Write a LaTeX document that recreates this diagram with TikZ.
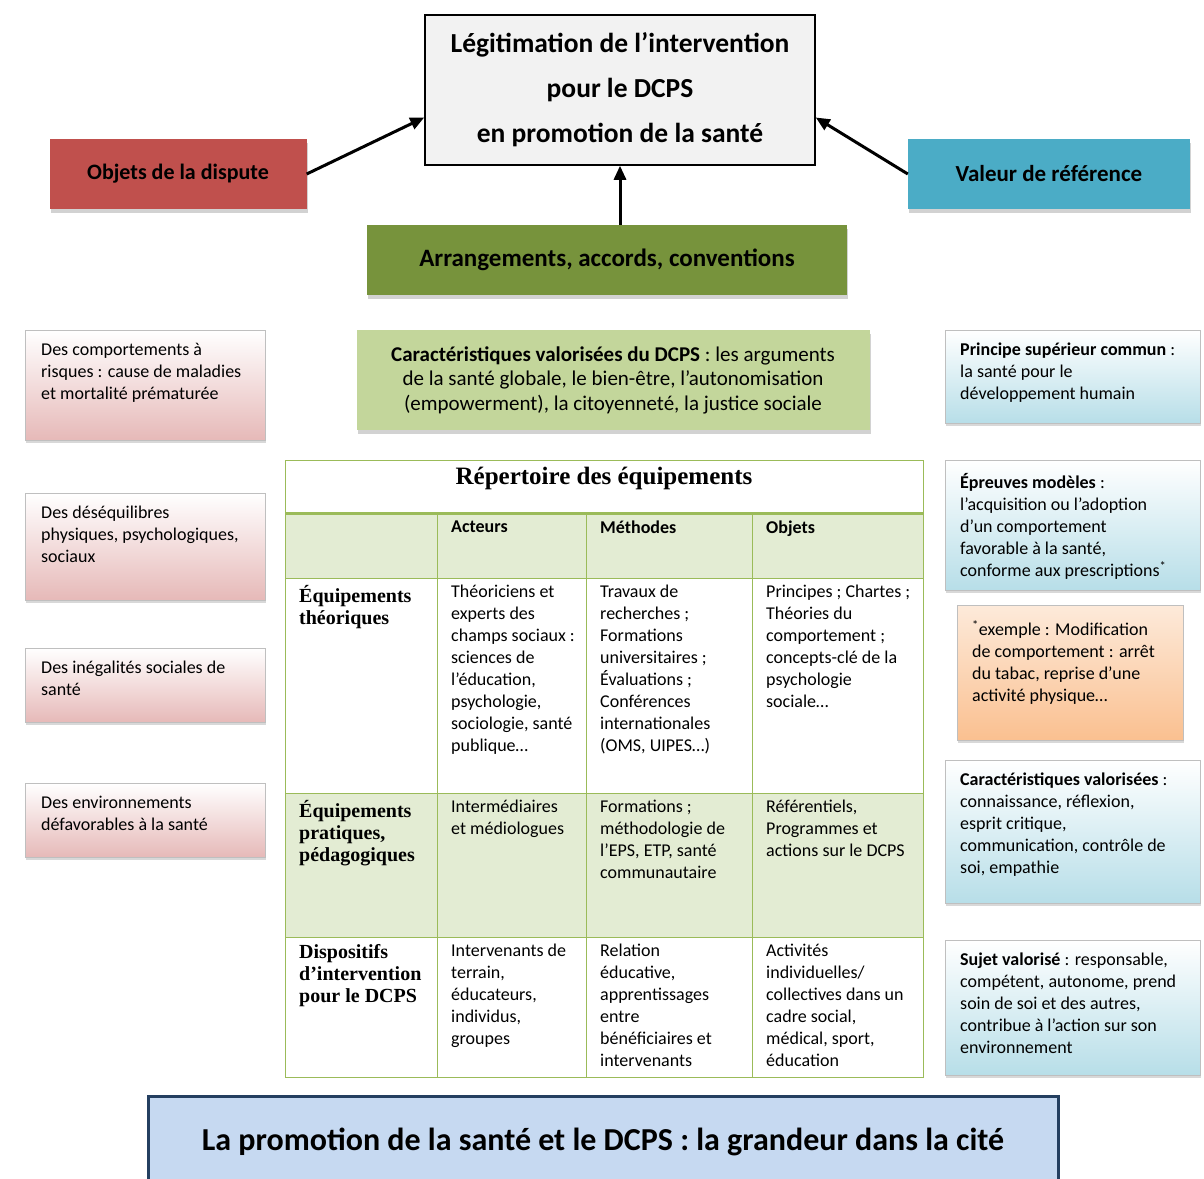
\documentclass[tikz,border=0pt]{standalone}
\usepackage{fontspec}
\setmainfont{Carlito}
\newfontfamily\tabserif{Liberation Serif}
\usetikzlibrary{arrows.meta,shadows}
\definecolor{disputered}{HTML}{C0504D}
\definecolor{valueblue}{HTML}{4BACC6}
\definecolor{arrgreen}{HTML}{77933C}
\definecolor{lightolive}{HTML}{C3D69B}
\definecolor{pinkbot}{HTML}{E6B9B8}
\definecolor{bluebot}{HTML}{B7DEE8}
\definecolor{orangetop}{HTML}{FDEADA}
\definecolor{orangebot}{HTML}{FAC090}
\definecolor{tabline}{HTML}{9BBB59}
\definecolor{tabfill}{HTML}{E3ECD3}
\definecolor{citynavy}{HTML}{243F60}
\definecolor{cityfill}{HTML}{C6D9F1}
\begin{document}
\begin{tikzpicture}[x=1pt, y=-1pt]
\useasboundingbox (0,0) rectangle (1204,1178);
\fill[white] (0,0) rectangle (1204,1178);
\node[rectangle, draw, line width=1.5pt, fill=gray!10, minimum width=390pt, minimum height=150pt, align=center, font=\bfseries\fontsize{27.5}{45}\selectfont] (legit) at (620,90) {Légitimation de l’intervention\\pour le DCPS\\en promotion de la santé};
\begin{scope}[every node/.style = {rectangle, align=center, font=\bfseries\fontsize{22}{26}\selectfont, drop shadow={shadow xshift=1pt, shadow yshift=-4pt, opacity=.35}}]
\node[fill=disputered, minimum width=257pt, minimum height=70pt] (dispute) at (178,174) {Objets de la dispute};
\node[fill=valueblue, minimum width=282pt, minimum height=70pt, font=\bfseries\fontsize{23}{26}\selectfont] (valeur) at (1049,174) {Valeur de référence};
\node[fill=arrgreen, minimum width=480pt, minimum height=70pt, font=\bfseries\fontsize{25}{28}\selectfont] (arrange) at (607,260) {Arrangements, accords, conventions};
\node[fill=lightolive, minimum width=513pt, minimum height=100pt, font=\fontsize{21}{24.5}\selectfont] (caracdcps) at (613,380) {\textbf{Caractéristiques valorisées du DCPS} : les arguments\\de la santé globale, le bien-être, l’autonomisation\\(empowerment), la citoyenneté, la justice sociale};
\end{scope}
\begin{scope}[every edge/.style = {draw, line width=3pt, -{Triangle[length=14pt, width=12pt]}}]
\path (dispute.east) edge (legit.188);
\path (valeur.west) edge (legit.352);
\path (legit.south |- arrange.north) edge (legit.south);
\end{scope}
\begin{scope}[every node/.style = {rectangle, anchor=north west, draw=gray!50, top color=white, bottom color=pinkbot, inner xsep=16pt, inner ysep=13pt, align=left, font=\fontsize{18}{22}\selectfont, drop shadow={shadow xshift=1pt, shadow yshift=-3pt, opacity=.3}}]
\node (risques) at (25,330) {\parbox[c][84pt][t]{208pt}{Des comportements à\\risques : cause de maladies\\et mortalité prématurée}};
\node (desequilibres) at (25,493) {\parbox[c][81pt][t]{208pt}{Des déséquilibres\\physiques, psychologiques,\\sociaux}};
\node (inegalites) at (25,648) {\parbox[c][48pt][t]{208pt}{Des inégalités sociales de\\santé}};
\node (environnements) at (25,783) {\parbox[c][48pt][t]{208pt}{Des environnements\\défavorables à la santé}};
\end{scope}
\begin{scope}[every node/.style = {rectangle, anchor=north west, draw=gray!50, top color=white, bottom color=bluebot, inner xsep=15pt, inner ysep=13pt, align=left, font=\fontsize{18}{22}\selectfont, drop shadow={shadow xshift=1pt, shadow yshift=-3pt, opacity=.3}}]
\node (principe) at (945,330) {\parbox[c][67pt][t]{225pt}{\textbf{Principe supérieur commun} :\\la santé pour le\\développement humain}};
\node (epreuves) at (945,460) {\parbox[c][104pt][t]{225pt}{\textbf{Épreuves modèles} :\\l’acquisition ou l’adoption\\d’un comportement\\favorable à la santé,\\conforme aux prescriptions\textsuperscript{*}}};
\node[top color=orangetop, bottom color=orangebot, inner ysep=15pt] (exemple) at (957,605) {\parbox[c][105pt][t]{196pt}{\textsuperscript{*}exemple : Modification\\de comportement : arrêt\\du tabac, reprise d’une\\activité physique…}};
\node (caracsujet) at (945,760) {\parbox[c][117pt][t]{225pt}{\textbf{Caractéristiques valorisées} :\\connaissance, réflexion,\\esprit critique,\\communication, contrôle de\\soi, empathie}};
\node (sujet) at (945,940) {\parbox[c][109pt][t]{225pt}{\textbf{Sujet valorisé} : responsable,\\compétent, autonome, prend\\soin de soi et des autres,\\contribue à l’action sur son\\environnement}};
\end{scope}
\fill[tabfill] (285,513) rectangle (923,578);
\fill[tabfill] (285,793) rectangle (923,937);
\begin{scope}[draw=tabline, line width=0.8pt]
\draw (285,460) rectangle (923,1077);
\foreach \x in {437,586,752} \draw (\x,513) -- (\x,1077);
\foreach \y in {578,793,937} \draw (285,\y) -- (923,\y);
\draw[line width=3pt] (285,513) -- (923,513);
\end{scope}
\node[font=\tabserif\bfseries\fontsize{25}{28}\selectfont] (repertoire) at (604,478) {Répertoire des équipements};
\begin{scope}[every node/.style = {anchor=north west, inner sep=0pt, align=left, font=\fontsize{18}{22}\selectfont}]
\node[font=\bfseries\fontsize{18}{22}\selectfont] (acteurs) at (451,521) {Acteurs};
\node[font=\bfseries\fontsize{18}{22}\selectfont] (methodes) at (600,521) {Méthodes};
\node[font=\bfseries\fontsize{18}{22}\selectfont] (objets) at (766,521) {Objets};
\node[font=\tabserif\bfseries\fontsize{20}{22}\selectfont] (theoriques) at (299,585) {Équipements\\théoriques};
\node (theoact) at (451,585) {Théoriciens et\\experts des\\champs sociaux :\\sciences de\\l’éducation,\\psychologie,\\sociologie, santé\\publique…};
\node (theometh) at (600,585) {Travaux de\\recherches ;\\Formations\\universitaires ;\\Évaluations ;\\Conférences\\internationales\\(OMS, UIPES…)};
\node (theoobj) at (766,585) {Principes ; Chartes ;\\Théories du\\comportement ;\\concepts-clé de la\\psychologie\\sociale…};
\node[font=\tabserif\bfseries\fontsize{20}{22}\selectfont] (pratiques) at (299,800) {Équipements\\pratiques,\\pédagogiques};
\node (pratact) at (451,800) {Intermédiaires\\et médiologues};
\node (pratmeth) at (600,800) {Formations ;\\méthodologie de\\l’EPS, ETP, santé\\communautaire};
\node (pratobj) at (766,800) {Référentiels,\\Programmes et\\actions sur le DCPS};
\node[font=\tabserif\bfseries\fontsize{20}{22}\selectfont] (dispositifs) at (299,944) {Dispositifs\\d’intervention\\pour le DCPS};
\node (dispact) at (451,944) {Intervenants de\\terrain,\\éducateurs,\\individus,\\groupes};
\node (dispmeth) at (600,944) {Relation\\éducative,\\apprentissages\\entre\\bénéficiaires et\\intervenants};
\node (dispobj) at (766,944) {Activités\\individuelles/\\collectives dans un\\cadre social,\\médical, sport,\\éducation};
\end{scope}
\node[draw=citynavy, line width=3pt, fill=cityfill, minimum width=910pt, minimum height=92pt, font=\bfseries\fontsize{32}{36}\selectfont] (grandeur) at (603,1142) {La promotion de la santé et le DCPS : la grandeur dans la cité};
\end{tikzpicture}
\end{document}
